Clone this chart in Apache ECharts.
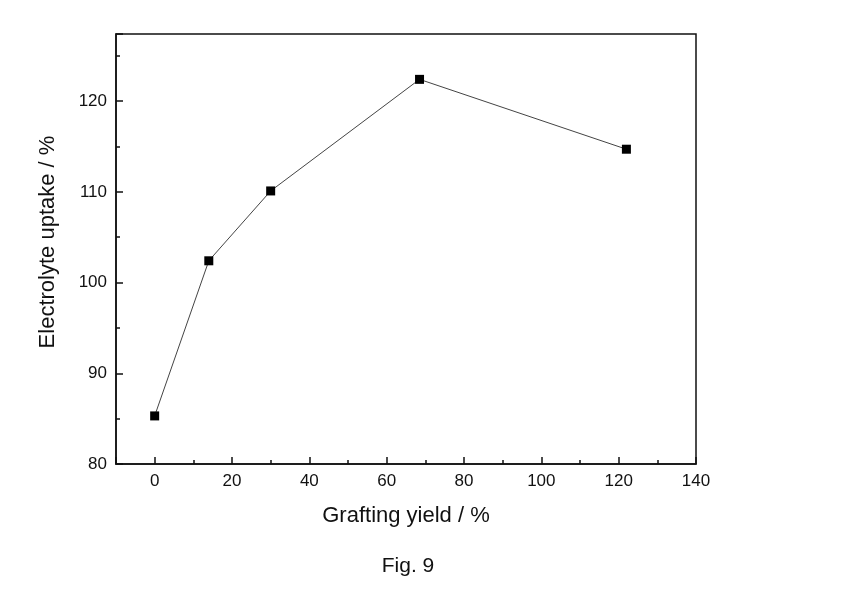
<!DOCTYPE html>
<html><head><meta charset="utf-8">
<script src="https://cdn.jsdelivr.net/npm/echarts@6/dist/echarts.min.js"></script>
<style>html,body{margin:0;padding:0;background:#fff}#c{width:841px;height:596px}</style>
</head><body><div id="c"></div>
<script>
var graftingYield = [0, 14, 30, 68.5, 122];
var electrolyteUptake = [85.3, 102.4, 110.1, 122.4, 114.7];
var xName = 'Grafting yield / %';
var yName = 'Electrolyte uptake / %';
var caption = 'Fig. 9';

var pts = graftingYield.map(function(x, i){ return [x, electrolyteUptake[i]]; });
var font = 'Liberation Sans, Arial, sans-serif';
var chart = echarts.init(document.getElementById('c'));
chart.setOption({
  animation: false,
  backgroundColor: '#fff',
  title: {text: caption, left: 403, top: 551, textAlign: 'center',
    textStyle: {fontFamily: font, fontSize: 21, fontWeight: 'normal', color: '#111'}},
  grid: {left: 116, right: 145, top: 34, bottom: 132, show: true, borderColor: '#111', borderWidth: 1.5, backgroundColor: 'transparent'},
  xAxis: {
    type: 'value', min: -10, max: 140, splitNumber: 7,
    name: xName, nameLocation: 'middle', nameGap: 41,
    nameTextStyle: {fontFamily: font, fontSize: 22, color: '#111'},
    axisLine: {show: true, onZero: false, lineStyle: {color: '#111', width: 1.5}},
    axisTick: {show: true, inside: true, length: 7, lineStyle: {color: '#111', width: 1.5}},
    minorTick: {show: true, splitNumber: 2, length: 4, lineStyle: {color: '#111', width: 1.5}},
    axisLabel: {fontFamily: font, fontSize: 17, color: '#111', margin: 9, showMinLabel: false, showMaxLabel: true,
      formatter: function(v){ return (v % 20 === 0) ? String(v) : ''; }},
    splitLine: {show: false}
  },
  yAxis: {
    type: 'value', min: 80, max: 127.4, interval: 10,
    name: yName, nameLocation: 'middle', nameGap: 57,
    nameTextStyle: {fontFamily: font, fontSize: 22, color: '#111', padding: [0, 0, 0, 14]},
    axisLine: {show: true, onZero: false, lineStyle: {color: '#111', width: 1.5}},
    axisTick: {show: true, inside: true, length: 7, lineStyle: {color: '#111', width: 1.5}},
    minorTick: {show: true, splitNumber: 2, length: 4, lineStyle: {color: '#111', width: 1.5}},
    axisLabel: {fontFamily: font, fontSize: 17, color: '#111', margin: 9, showMaxLabel: false,
      formatter: function(v){ return (v % 10 === 0) ? String(v) : ''; }},
    splitLine: {show: false}
  },
  series: [{
    type: 'line', data: pts, symbol: 'rect', symbolSize: 9,
    lineStyle: {color: '#444', width: 1},
    itemStyle: {color: '#000'}
  }]
});
</script></body></html>
